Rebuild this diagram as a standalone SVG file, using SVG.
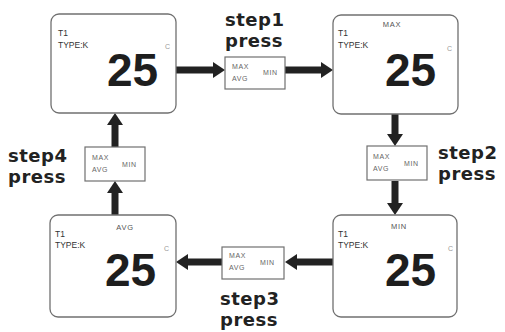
<svg xmlns="http://www.w3.org/2000/svg" width="505" height="332" viewBox="0 0 505 332">
<style>
.box{fill:#fff;stroke:#707070;stroke-width:1.3}
.sbox{fill:#fff;stroke:#707070;stroke-width:1.2}
.sm{font-family:"Liberation Sans",Arial,sans-serif;font-size:8.5px;fill:#333}
.big{font-family:"Liberation Sans",Arial,sans-serif;font-size:46px;font-weight:bold;fill:#1e1e1e}
.mark{font-family:"Liberation Sans",Arial,sans-serif;font-size:7px;fill:#999}
.mode{font-family:"Liberation Sans",Arial,sans-serif;font-size:7.5px;fill:#555;letter-spacing:0.8px}
.tiny{font-family:"Liberation Sans",Arial,sans-serif;font-size:7px;fill:#666;letter-spacing:0.6px}
.step{font-family:"DejaVu Sans",sans-serif;font-size:18px;font-weight:bold;fill:#222;letter-spacing:0.5px}
.arr{stroke:#222;stroke-width:7;fill:none;marker-end:url(#ah)}
</style>
<defs>
<marker id="ah" markerUnits="userSpaceOnUse" markerWidth="12" markerHeight="16" refX="0" refY="8" orient="auto">
<path d="M0,0 L12,8 L0,16 z" fill="#222"/>
</marker>
</defs>
<g id="connectors">
<line class="arr" x1="176" y1="70" x2="213" y2="70"/>
<line class="arr" x1="285" y1="70" x2="321" y2="70"/>
<line class="arr" x1="395" y1="114" x2="395" y2="134"/>
<line class="arr" x1="395" y1="181" x2="395" y2="203"/>
<line class="arr" x1="333" y1="262" x2="297" y2="262"/>
<line class="arr" x1="222" y1="262" x2="188" y2="262"/>
<line class="arr" x1="115" y1="215" x2="115" y2="193"/>
<line class="arr" x1="115" y1="147" x2="115" y2="125"/>
</g>
<g id="display1">
<rect class="box" x="51" y="14" width="125" height="99" rx="8"/>
<text class="sm" x="58" y="36">T1</text>
<text class="sm" x="58" y="48">TYPE:K</text>
<text class="big" x="107" y="86">25</text>
<text class="mark" x="165" y="49">C</text>
</g>
<g id="display2">
<rect class="box" x="333" y="15" width="125" height="99" rx="8"/>
<text class="mode" x="392" y="27" text-anchor="middle">MAX</text>
<text class="sm" x="338" y="36">T1</text>
<text class="sm" x="338" y="48">TYPE:K</text>
<text class="big" x="385" y="86">25</text>
<text class="mark" x="447" y="51">C</text>
</g>
<g id="display3">
<rect class="box" x="50" y="215" width="126" height="102" rx="8"/>
<text class="mode" x="125" y="230" text-anchor="middle">AVG</text>
<text class="sm" x="55" y="237">T1</text>
<text class="sm" x="55" y="248">TYPE:K</text>
<text class="big" x="105" y="286">25</text>
<text class="mark" x="164" y="251">C</text>
</g>
<g id="display4">
<rect class="box" x="333" y="215" width="124" height="102" rx="8"/>
<text class="mode" x="399" y="229" text-anchor="middle">MIN</text>
<text class="sm" x="338" y="237">T1</text>
<text class="sm" x="338" y="248">TYPE:K</text>
<text class="big" x="385" y="286">25</text>
<text class="mark" x="448" y="251">C</text>
</g>
<g id="key1">
<rect class="sbox" x="225" y="57" width="60" height="32"/>
<text class="tiny" x="232" y="69">MAX</text>
<text class="tiny" x="232" y="81">AVG</text>
<text class="tiny" x="263" y="75">MIN</text>
<text class="step" x="225" y="26">step1</text>
<text class="step" x="225" y="47">press</text>
</g>
<g id="key2">
<rect class="sbox" x="367" y="146" width="60" height="34"/>
<text class="tiny" x="373" y="159">MAX</text>
<text class="tiny" x="373" y="171">AVG</text>
<text class="tiny" x="404" y="166">MIN</text>
<text class="step" x="438" y="159">step2</text>
<text class="step" x="438" y="180">press</text>
</g>
<g id="key3">
<rect class="sbox" x="222" y="247" width="62" height="32"/>
<text class="tiny" x="229" y="258">MAX</text>
<text class="tiny" x="229" y="270">AVG</text>
<text class="tiny" x="260" y="265">MIN</text>
<text class="step" x="220" y="305">step3</text>
<text class="step" x="220" y="326">press</text>
</g>
<g id="key4">
<rect class="sbox" x="85" y="147" width="60" height="34"/>
<text class="tiny" x="92" y="160">MAX</text>
<text class="tiny" x="92" y="172">AVG</text>
<text class="tiny" x="122" y="167">MIN</text>
<text class="step" x="8" y="162">step4</text>
<text class="step" x="8" y="183">press</text>
</g>
</svg>
